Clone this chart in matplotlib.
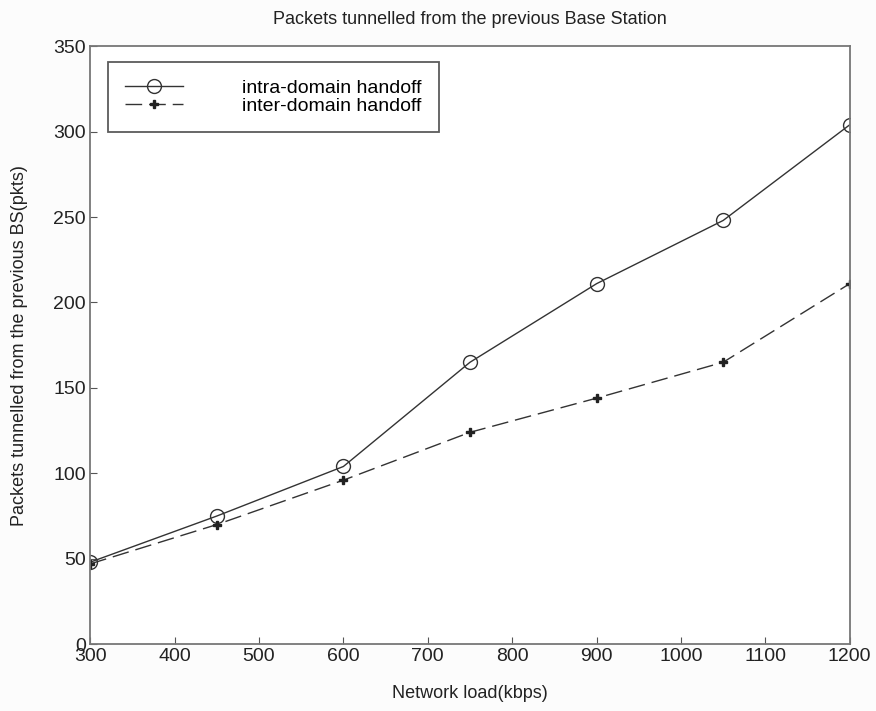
import matplotlib
matplotlib.use("Agg")
import matplotlib.pyplot as plt

load = [300, 450, 600, 750, 900, 1050, 1200]
intra = [48, 75, 104, 165, 211, 248, 304]
inter = [47, 70, 96, 124, 144, 165, 211]
xticks = [300, 400, 500, 600, 700, 800, 900, 1000, 1100, 1200]
yticks = [0, 50, 100, 150, 200, 250, 300, 350]

plt.rcParams['font.family'] = ['Liberation Sans', 'DejaVu Sans']
fig = plt.figure(figsize=(8.76, 7.11), dpi=100)
fig.patch.set_facecolor('#fcfcfc')
ax = fig.add_axes([0.103, 0.094, 0.867, 0.841])
ax.set_facecolor('white')
ax.plot(load, intra, '-', color='#333333', lw=1.0, marker='o', ms=10, mfc='none', mec='#333333', mew=1.0, label='intra-domain handoff')
ax.plot(load, inter, color='#333333', lw=1.0, dashes=(12, 5), marker='P', ms=6, mfc='#222222', mec='#222222', label='inter-domain handoff')
ax.set_xlim(300, 1200)
ax.set_ylim(0, 350)
ax.set_xticks(xticks)
ax.set_yticks(yticks)
ax.tick_params(direction='in', length=5, labelsize=14, colors='#555555', labelcolor='#222222', pad=3)
for s in ax.spines.values():
    s.set_color('#777777')
    s.set_linewidth(1.3)
ax.set_title('Packets tunnelled from the previous Base Station', fontsize=13, color='#222222', pad=16)
ax.set_xlabel('Network load(kbps)', fontsize=13, color='#222222', labelpad=14)
ax.set_ylabel('Packets tunnelled from the previous BS(pkts)', fontsize=13, color='#222222', labelpad=18)
leg = ax.legend(loc='upper left', bbox_to_anchor=(0.01, 0.99), fontsize=14, frameon=True, fancybox=False,
                edgecolor='#333333', handlelength=3.0, handletextpad=3.0, borderpad=0.9, labelspacing=0.0)
leg.get_frame().set_linewidth(1.3)
fig.savefig('out.png', dpi=100, facecolor=fig.get_facecolor())
